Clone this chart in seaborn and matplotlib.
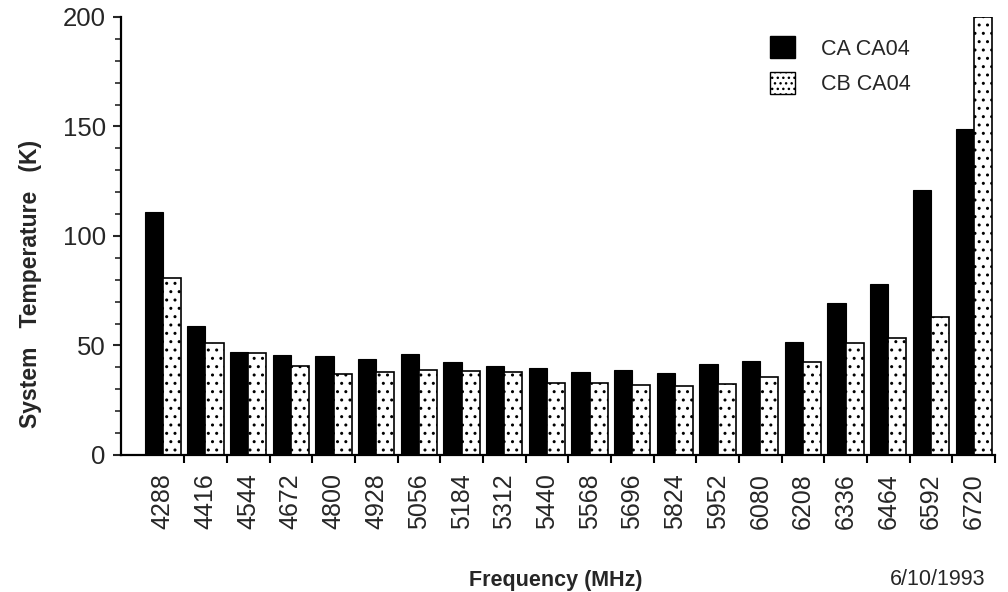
import numpy as np
import pandas as pd
import matplotlib
matplotlib.use("Agg")
import matplotlib.pyplot as plt
from matplotlib.ticker import MultipleLocator, FixedLocator
from matplotlib.patches import Patch
import seaborn as sns

frequencies = ["4288", "4416", "4544", "4672", "4800", "4928", "5056", "5184", "5312", "5440",
               "5568", "5696", "5824", "5952", "6080", "6208", "6336", "6464", "6592", "6720"]
ca_ca04 = [111, 59, 47, 45.5, 45, 44, 46, 42.5, 40.5, 39.5,
           38, 39, 37.5, 41.5, 43, 51.5, 69.5, 78, 121, 149]
cb_ca04 = [81, 51, 46.5, 40.5, 37, 38, 39, 38.5, 38, 33,
           33, 32, 31.5, 32.5, 35.5, 42.5, 51, 53.5, 63, 200]
series_names = ["CA CA04", "CB CA04"]
date_text = "6/10/1993"

df = pd.DataFrame({
    "freq": frequencies * 2,
    "temp": ca_ca04 + cb_ca04,
    "series": [series_names[0]] * len(frequencies) + [series_names[1]] * len(frequencies),
})

sns.set_style("ticks")
plt.rcParams["font.family"] = ["Liberation Sans", "DejaVu Sans"]
plt.rcParams["hatch.linewidth"] = 1.0

fig = plt.figure(figsize=(10.08, 5.92), dpi=100)
ax = fig.add_axes([121 / 1008, 1 - 455 / 592, (995 - 121) / 1008, (455 - 17) / 592])

sns.barplot(data=df, x="freq", y="temp", hue="series", hue_order=series_names,
            order=frequencies, palette=["black", "white"], width=0.85, gap=0,
            saturation=1, ax=ax, legend=False)

for bar in ax.containers[1]:
    bar.set_edgecolor("black")
    bar.set_linewidth(1.2)
    bar.set_hatch("..")
for bar in ax.containers[0]:
    bar.set_edgecolor("black")
    bar.set_linewidth(0.8)

ax.set_ylim(0, 200)
ax.set_xlim(-0.98, 19.5)
ax.yaxis.set_major_locator(MultipleLocator(50))
ax.yaxis.set_minor_locator(MultipleLocator(10))
ax.xaxis.set_minor_locator(FixedLocator(np.arange(0.5, 20, 1.0)))
ax.tick_params(axis="x", which="major", length=0, pad=13, labelsize=18, rotation=90)
ax.tick_params(axis="x", which="minor", length=6, width=1.5, color="black", direction="out")
ax.tick_params(axis="y", which="major", length=6, width=1.5, labelsize=18.5, pad=5)
ax.tick_params(axis="y", which="minor", length=4, width=1.2)

for s in ["top", "right"]:
    ax.spines[s].set_visible(False)
for s in ["left", "bottom"]:
    ax.spines[s].set_linewidth(1.6)
    ax.spines[s].set_color("black")

ax.set_xlabel("Frequency (MHz)", fontsize=15.5, fontweight="bold")
ax.xaxis.set_label_coords(0.497, -0.262)
ax.set_ylabel("System   Temperature   (K)", fontsize=16.5, fontweight="bold")
ax.yaxis.set_label_coords(-0.09, 0.39)

handles = [Patch(facecolor="black", edgecolor="black"),
           Patch(facecolor="white", edgecolor="black", hatch="...")]
ax.legend(handles, series_names, loc="upper left", bbox_to_anchor=(0.72, 1.0),
          frameon=False, fontsize=15.5, handlelength=1.2, handleheight=1.2,
          handletextpad=1.2, labelspacing=0.55)

fig.text(0.978, 0.004, date_text, ha="right", va="bottom", fontsize=15.5)

fig.savefig("out.png", dpi=100)
